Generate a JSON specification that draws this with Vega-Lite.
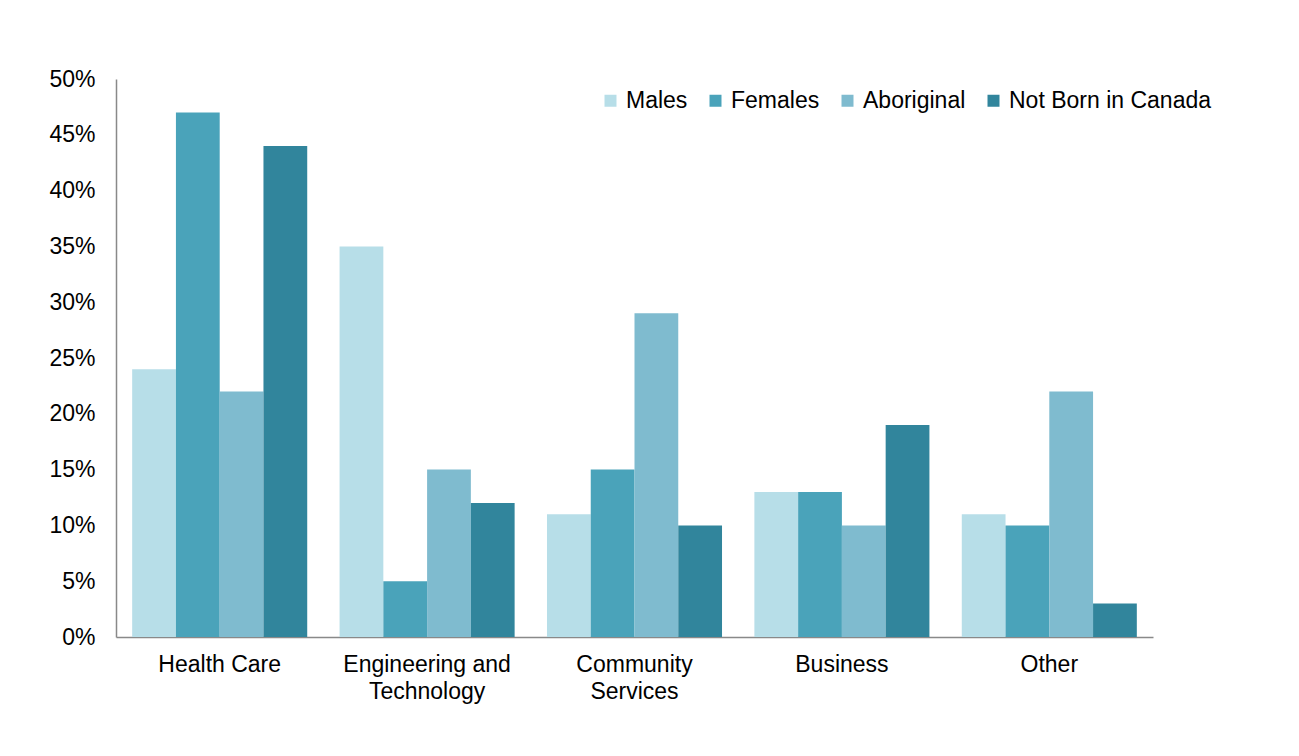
{
  "$schema": "https://vega.github.io/schema/vega-lite/v6.json",
  "autosize": "none",
  "width": 1037,
  "height": 558,
  "padding": {"left": 116, "top": 79, "right": 146, "bottom": 119},
  "background": "white",
  "config": {
    "font": "Liberation Sans",
    "view": {"stroke": null},
    "axis": {"labelFont": "Liberation Sans", "labelColor": "#000000"},
    "legend": {"labelFont": "Liberation Sans", "labelColor": "#000000"}
  },
  "data": {
    "values": [
      {"field": "Health Care", "group": "Males", "value": 0.24},
      {"field": "Health Care", "group": "Females", "value": 0.47},
      {"field": "Health Care", "group": "Aboriginal", "value": 0.22},
      {"field": "Health Care", "group": "Not Born in Canada", "value": 0.44},
      {"field": "Engineering and Technology", "group": "Males", "value": 0.35},
      {"field": "Engineering and Technology", "group": "Females", "value": 0.05},
      {"field": "Engineering and Technology", "group": "Aboriginal", "value": 0.15},
      {"field": "Engineering and Technology", "group": "Not Born in Canada", "value": 0.12},
      {"field": "Community Services", "group": "Males", "value": 0.11},
      {"field": "Community Services", "group": "Females", "value": 0.15},
      {"field": "Community Services", "group": "Aboriginal", "value": 0.29},
      {"field": "Community Services", "group": "Not Born in Canada", "value": 0.10},
      {"field": "Business", "group": "Males", "value": 0.13},
      {"field": "Business", "group": "Females", "value": 0.13},
      {"field": "Business", "group": "Aboriginal", "value": 0.10},
      {"field": "Business", "group": "Not Born in Canada", "value": 0.19},
      {"field": "Other", "group": "Males", "value": 0.11},
      {"field": "Other", "group": "Females", "value": 0.10},
      {"field": "Other", "group": "Aboriginal", "value": 0.22},
      {"field": "Other", "group": "Not Born in Canada", "value": 0.03}
    ]
  },
  "mark": {"type": "bar"},
  "encoding": {
    "x": {
      "field": "field",
      "type": "nominal",
      "sort": ["Health Care", "Engineering and Technology", "Community Services", "Business", "Other"],
      "scale": {"paddingInner": 0.156, "paddingOuter": 0.078},
      "axis": {
        "title": null,
        "labelAngle": 0,
        "labelFontSize": 23,
        "labelPadding": 16,
        "labelLineHeight": 27,
        "labelBaseline": "top",
        "labelLimit": 400,
        "ticks": false,
        "domainColor": "#898989",
        "domainWidth": 1.5,
        "labelExpr": "datum.label == 'Engineering and Technology' ? ['Engineering and', 'Technology'] : datum.label == 'Community Services' ? ['Community', 'Services'] : datum.label"
      }
    },
    "xOffset": {
      "field": "group",
      "type": "nominal",
      "sort": ["Males", "Females", "Aboriginal", "Not Born in Canada"],
      "scale": {"paddingInner": 0, "paddingOuter": 0}
    },
    "y": {
      "field": "value",
      "type": "quantitative",
      "scale": {"domain": [0, 0.5], "nice": false},
      "axis": {
        "title": null,
        "format": ".0%",
        "values": [0, 0.05, 0.1, 0.15, 0.2, 0.25, 0.3, 0.35, 0.4, 0.45, 0.5],
        "grid": false,
        "ticks": false,
        "labelFontSize": 23,
        "labelPadding": 21,
        "domainColor": "#898989",
        "domainWidth": 1.5
      }
    },
    "color": {
      "field": "group",
      "type": "nominal",
      "sort": ["Males", "Females", "Aboriginal", "Not Born in Canada"],
      "scale": {
        "domain": ["Males", "Females", "Aboriginal", "Not Born in Canada"],
        "range": ["#b7dee8", "#4aa3ba", "#7fbbcf", "#31859c"]
      },
      "legend": {
        "title": null,
        "orient": "none",
        "legendX": 483,
        "legendY": 10,
        "direction": "horizontal",
        "columns": 4,
        "symbolType": "square",
        "symbolSize": 144,
        "symbolStrokeWidth": 0,
        "labelFontSize": 23,
        "labelOffset": 4,
        "labelLimit": 400,
        "columnPadding": 16
      }
    }
  }
}
